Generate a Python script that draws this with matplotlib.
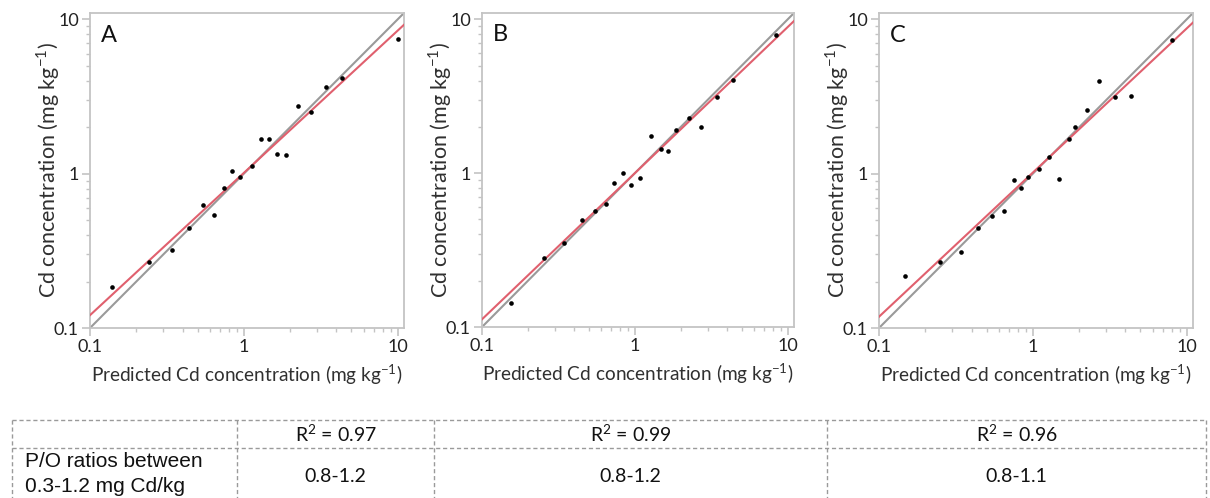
import matplotlib
matplotlib.use('Agg')
import matplotlib.pyplot as plt
import numpy as np
from matplotlib.lines import Line2D
from matplotlib.ticker import LogLocator, FixedLocator, FixedFormatter, NullFormatter

plt.rcParams['font.family'] = ['Lato', 'DejaVu Sans']
plt.rcParams['mathtext.fontset'] = 'custom'
plt.rcParams['mathtext.rm'] = 'Lato'

pred_a = [0.138, 0.242, 0.343, 0.443, 0.541, 0.641, 0.745, 0.844, 0.951, 1.128,
          1.29, 1.46, 1.64, 1.88, 2.25, 2.72, 3.44, 4.36, 10.0]
meas_a = [0.184, 0.266, 0.319, 0.448, 0.627, 0.543, 0.804, 1.035, 0.946, 1.12,
          1.69, 1.69, 1.34, 1.33, 2.75, 2.52, 3.63, 4.20, 7.46]

pred_b = [0.155, 0.255, 0.344, 0.448, 0.547, 0.645, 0.733, 0.839, 0.942, 1.08,
          1.27, 1.49, 1.66, 1.87, 2.26, 2.72, 3.43, 4.36, 8.34]
meas_b = [0.143, 0.280, 0.352, 0.493, 0.570, 0.627, 0.863, 1.01, 0.834, 0.925,
          1.75, 1.43, 1.40, 1.91, 2.28, 2.01, 3.15, 4.03, 7.87]

pred_c = [0.148, 0.250, 0.341, 0.443, 0.540, 0.649, 0.750, 0.838, 0.931, 1.09,
          1.27, 1.47, 1.71, 1.89, 2.24, 2.70, 3.42, 4.32, 8.03]
meas_c = [0.218, 0.268, 0.310, 0.446, 0.530, 0.577, 0.906, 0.811, 0.957, 1.07,
          1.28, 0.925, 1.69, 2.00, 2.57, 4.01, 3.16, 3.19, 7.31]

panel_labels = ['A', 'B', 'C']
# regression in log space: log10(y) = a + b*log10(x)
reg_a = [0.005, 0.0, 0.007]
reg_b = [0.922, 0.95, 0.934]

r2_text = ['R$^2$ = 0.97', 'R$^2$ = 0.99', 'R$^2$ = 0.96']
po_text = ['0.8-1.2', '0.8-1.2', '0.8-1.1']
row_label = 'P/O ratios between\n0.3-1.2 mg Cd/kg'

W, H = 1210, 498
fig = plt.figure(figsize=(W / 100, H / 100), dpi=100)

# axes boxes in pixels: left, right, top, bottom
boxes = [(90, 404, 13, 328), (482, 794, 13, 327), (879, 1193, 13, 328)]

xs = [pred_a, pred_b, pred_c]
ys = [meas_a, meas_b, meas_c]
lim = (0.1, 11.0)
spine_col = '#c4c4c4'

for i in range(3):
    l, r, t, b = boxes[i]
    ax = fig.add_axes([l / W, 1 - b / H, (r - l) / W, (b - t) / H])
    ax.set_xscale('log')
    ax.set_yscale('log')
    ax.set_xlim(*lim)
    ax.set_ylim(*lim)

    line = np.logspace(-1, np.log10(lim[1]), 50)
    ax.plot(line, line, color='#9a9a9a', lw=1.5, zorder=2)
    ax.plot(line, 10 ** (reg_a[i] + reg_b[i] * np.log10(line)), color='#e0606e', lw=1.5, zorder=3)
    ax.scatter(xs[i], ys[i], s=11, color='black', zorder=4, linewidths=0)

    for s in ax.spines.values():
        s.set_color(spine_col)
        s.set_linewidth(1.3)
    for axis in (ax.xaxis, ax.yaxis):
        axis.set_major_locator(FixedLocator([0.1, 1, 10]))
        axis.set_major_formatter(FixedFormatter(['0.1', '1', '10']))
        axis.set_minor_locator(LogLocator(base=10, subs=np.arange(2, 10)))
        axis.set_minor_formatter(NullFormatter())
    ax.tick_params(which='major', length=6, width=1.2, color=spine_col,
                   labelsize=13, labelcolor='#222222', pad=2)
    ax.tick_params(which='minor', length=3, width=1.0, color=spine_col)

    ax.set_xlabel('Predicted Cd concentration (mg kg$^{\\mathregular{-1}}$)', fontsize=13.7, color='#303030', labelpad=5)
    ax.set_ylabel('Cd concentration (mg kg$^{\\mathregular{-1}}$)', fontsize=15.5, color='#303030', labelpad=-6)
    ax.text(0.035, 0.93, panel_labels[i], transform=ax.transAxes, fontsize=17,
            ha='left', va='center', color='#111111')

# table below the plots (drawn in figure pixels)
tcol = '#9a9a9a'
def hline(y, x0, x1):
    fig.add_artist(Line2D([x0 / W, x1 / W], [1 - y / H, 1 - y / H], color=tcol,
                          lw=1.0, ls=(0, (3, 2))))
def vline(x, y0, y1):
    fig.add_artist(Line2D([x / W, x / W], [1 - y0 / H, 1 - y1 / H], color=tcol,
                          lw=1.0, ls=(0, (3, 2))))

col_edges = [12, 237, 434, 827, 1206]
hline(420, col_edges[0], col_edges[-1])
hline(448, col_edges[0], col_edges[-1])
for x in col_edges:
    vline(x, 420, 500)

tfont = ['Liberation Sans', 'DejaVu Sans']
for j in range(3):
    cx = (col_edges[j + 1] + col_edges[j + 2]) / 2
    fig.text(cx / W, 1 - 434 / H, r2_text[j], ha='center', va='center',
             fontsize=14, color='#111111')
    fig.text(cx / W, 1 - 476 / H, po_text[j], ha='center', va='center',
             fontsize=14, color='#111111')
fig.text(25 / W, 1 - 474 / H, row_label, ha='left', va='center',
         fontsize=15, family=tfont, color='#111111', linespacing=1.45)

fig.savefig('out.png', dpi=100)
